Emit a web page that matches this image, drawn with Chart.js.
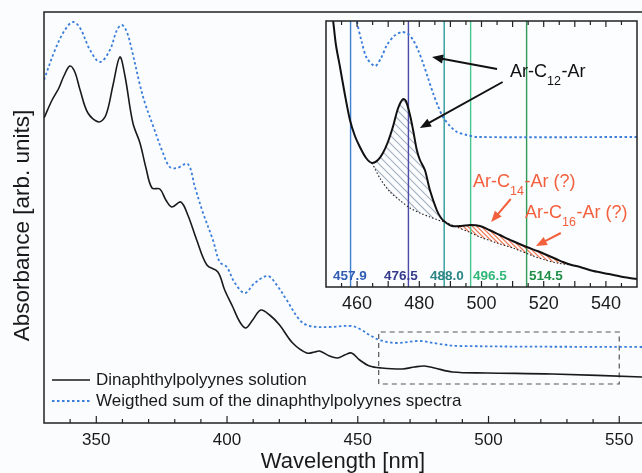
<!DOCTYPE html>
<html>
<head>
<meta charset="utf-8">
<script src="https://cdn.jsdelivr.net/npm/chart.js@4.4.0/dist/chart.umd.min.js"></script>
<style>
html,body{margin:0;padding:0;background:#fbfcfe;}
#wrap{position:relative;width:642px;height:473px;overflow:hidden;}
#main{position:absolute;left:0;top:0;}
#inset{position:absolute;left:316px;top:11px;}
</style>
</head>
<body>
<div id="wrap">
  <canvas id="main" width="642" height="473"></canvas>
  <canvas id="inset" width="326" height="310"></canvas>
</div>
<script>
const FONT = '"Liberation Sans", Arial, sans-serif';

// ===== main spectrum data [wavelength nm, absorbance arb.] =====
const solution = [[330,3.05],[333.1,3.23],[335.7,3.35],[337.6,3.47],[339.9,3.57],[341.8,3.51],[343.8,3.33],[346.8,3.10],
  [351,3.01],[353.7,3.08],[356.4,3.38],[359,3.66],[360.9,3.48],[364,3.00],[366.7,2.80],[369,2.55],[371.3,2.35],[374.3,2.34],
  [376.6,2.23],[378.9,2.16],[382.3,2.21],[385,2.08],[388.4,1.83],[392.3,1.58],[396.5,1.51],[399.1,1.33],[402.2,1.16],
  [404.9,1.01],[407.2,0.95],[409.8,1.03],[412.9,1.13],[416.3,1.08],[420.1,0.98],[425.1,0.80],[430.5,0.70],[433.5,0.71],
  [435.4,0.72],[439.2,0.67],[442.3,0.65],[445,0.68],[447.6,0.70],[450.7,0.63],[454.5,0.57],[459.1,0.55],[467.1,0.54],
  [471.7,0.56],[475.5,0.57],[479.4,0.55],[486.2,0.51],[499.2,0.50],[524.4,0.49],[558.7,0.46]];
const weightedSum = [[330,3.43],[334.2,3.73],[338,3.93],[341.1,4.01],[343.8,3.95],[347.6,3.73],[351.4,3.61],[355.2,3.73],
  [357.9,3.93],[359.8,3.98],[361.7,3.91],[363.6,3.73],[366.7,3.38],[368.6,3.20],[371.6,2.98],[375.5,2.70],[378.1,2.56],
  [380.8,2.55],[385,2.59],[387.7,2.36],[390.7,2.11],[394.6,1.83],[397.2,1.61],[399.9,1.56],[403,1.40],[406.8,1.30],
  [410.6,1.40],[415.6,1.47],[419,1.38],[422.8,1.23],[427.8,1.03],[431.6,0.97],[439.2,0.96],[447.6,0.97],[451.5,0.93],
  [454.5,0.88],[458.3,0.83],[464.8,0.80],[473.6,0.82],[481.3,0.79],[488.9,0.77],[558.7,0.76]];
const zoomBox = [[458,0.39],[458,0.91],[550,0.91],[550,0.39],[458,0.39]];
const mainTicks = [350,400,450,500,550];
const legendLabels = ['Dinaphthylpolyynes solution','Weigthed sum of the dinaphthylpolyynes spectra'];
const yTitle = 'Absorbance [arb. units]';

// ===== inset data =====
const insetSolution = [[451,2.95],[452.3,2.66],[453.2,2.42],[454.5,2.20],[456.1,1.92],[457.7,1.67],[459.3,1.51],[460.9,1.40],
  [462.9,1.29],[464.8,1.24],[466.7,1.27],[468.3,1.34],[469.9,1.45],[471.5,1.60],[473.2,1.79],[474.8,1.88],[475.7,1.86],
  [477,1.72],[478,1.57],[479.2,1.37],[480.2,1.27],[481.8,1.17],[483.4,0.97],[485.6,0.77],[487,0.69],[488.3,0.65],
  [490.5,0.61],[493.5,0.61],[496.5,0.62],[499.5,0.61],[502.5,0.57],[505.9,0.52],[510,0.46],[514.5,0.40],[518,0.36],
  [521,0.32],[524,0.28],[526.2,0.25],[529,0.22],[531.7,0.20],[536,0.16],[541,0.13],[545.5,0.10],[550,0.08]];
const insetSum = [[459.3,2.80],[459.9,2.66],[461.5,2.45],[463.1,2.29],[465.8,2.21],[467.7,2.29],[469.6,2.42],[471.9,2.51],
  [474.4,2.55],[476.4,2.53],[478,2.47],[479.6,2.37],[481.2,2.24],[482.8,2.09],[484.4,1.94],[486,1.81],[487.6,1.70],
  [489.9,1.61],[492.1,1.55],[495.3,1.52],[498.6,1.50],[550,1.50]];
const baseC12 = [[464.8,1.24],[467.5,1.08],[470.6,0.95],[474,0.86],[477,0.79],[480.2,0.74],[483.4,0.70],[486,0.67],[488.3,0.65]];
const baseC14 = [[488.3,0.65],[492,0.60],[496,0.55],[499.5,0.50],[505,0.44],[510.1,0.39],[516.6,0.31],[520.5,0.27],[524.3,0.24],[529,0.22]];
const laserWl = [457.9,476.5,488.0,496.5,514.5];
const laserText = ['457.9','476.5','488.0','496.5','514.5'];
const laserTextAt = [457.7,474.1,488.9,502.7,520.7];
const laserLine = ['#3f7fd0','#4a4aa8','#2e9a9a','#46c58c','#2e9a55'];
const laserInk = ['#2f5db5','#353a8c','#2a8585','#30b878','#1e8f45'];
const insetTicks = [460,480,500,520,540];
const annoText = [['Ar-C','12','-Ar'],['Ar-C','14','-Ar (?)'],['Ar-C','16','-Ar (?)']];
const annoAt = [[509.2,2.15],[497.3,1.05],[514.0,0.74]];
const annoInk = ['#111','#f2603e','#f2603e'];
const arrows = [[505.0,2.18,484.1,2.30],[506.8,2.05,480.2,1.59],[509.4,0.88,503.1,0.65],[525.5,0.54,517.5,0.41]];
const arrowInk = ['#111','#111','#f2603e','#f2603e'];
// hatched areas: [upper curve range, baseline, colour, spacing]
const hatchAreas = [[464.8,488.3,baseC12,'#a3b1be',8],[488.3,529,baseC14,'#f07a58',4.5]];

const pts = a => a.map(([x,y]) => ({x,y}));
const within = (a,lo,hi) => a.filter(p => p[0] >= lo && p[0] <= hi);

// ===== main chart =====
const mainDeco = {
  id:'mainDeco',
  afterDraw(chart){
    const {ctx, chartArea:a, scales:{x}} = chart;
    ctx.save();
    ctx.strokeStyle = '#222'; ctx.lineWidth = 1.5;
    ctx.beginPath();
    ctx.moveTo(a.right+2, a.top); ctx.lineTo(a.left, a.top); ctx.lineTo(a.left, a.bottom); ctx.lineTo(a.right+2, a.bottom);
    ctx.stroke();
    ctx.lineWidth = 1.2;
    for(let v=340; v<=x.max; v+=10){
      const px = x.getPixelForValue(v);
      ctx.beginPath(); ctx.moveTo(px, a.bottom); ctx.lineTo(px, a.bottom - (v%50===0 ? 7 : 4)); ctx.stroke();
    }
    // y axis title
    ctx.save();
    ctx.translate(a.left - 21, (a.top + a.bottom)/2 + 8);
    ctx.rotate(-Math.PI/2);
    ctx.font = '22.5px ' + FONT; ctx.fillStyle = '#1a1a1a'; ctx.textAlign = 'center'; ctx.textBaseline = 'middle';
    ctx.fillText(yTitle, 0, 0);
    ctx.restore();
    // legend
    const ds = chart.data.datasets;
    ctx.font = '17px ' + FONT; ctx.textBaseline = 'middle'; ctx.fillStyle = '#1a1a1a';
    legendLabels.forEach((t,i) => {
      const y = a.bottom - 43 + i*21, d = ds[i];
      ctx.strokeStyle = d.borderColor; ctx.lineWidth = d.borderWidth;
      ctx.setLineDash(d.borderDash || []);
      ctx.beginPath(); ctx.moveTo(a.left+8, y); ctx.lineTo(a.left+46, y); ctx.stroke();
      ctx.setLineDash([]);
      ctx.fillText(t, a.left+52, y);
    });
    ctx.restore();
  }
};

new Chart(document.getElementById('main'), {
  type:'line',
  data:{datasets:[
    {data:pts(solution), borderColor:'#1a1a1a', borderWidth:1.6, tension:0.35},
    {data:pts(weightedSum), borderColor:'#3b7ddb', borderWidth:1.8, borderDash:[2.5,2.5], tension:0.35},
    {data:pts(zoomBox), borderColor:'#555', borderWidth:1.2, borderDash:[5,4], tension:0}
  ]},
  options:{
    responsive:false, animation:false,
    layout:{padding:{top:12,left:0,right:0,bottom:0}},
    elements:{point:{radius:0}},
    plugins:{legend:{display:false}, tooltip:{enabled:false}},
    scales:{
      x:{type:'linear', min:330, max:558.7,
        afterBuildTicks: s => { s.ticks = mainTicks.map(v => ({value:v})); },
        afterFit: s => { s.height = 50; },
        grid:{display:false, drawTicks:false}, border:{display:false},
        ticks:{color:'#1a1a1a', padding:7, font:{family:FONT, size:17}},
        title:{display:true, text:'Wavelength [nm]', color:'#1a1a1a', padding:{top:0,bottom:0}, font:{family:FONT, size:22, lineHeight:1}}
      },
      y:{min:0, max:4.11,
        afterFit: s => { s.width = 44; },
        grid:{display:false, drawTicks:false}, border:{display:false},
        ticks:{display:false}
      }
    }
  },
  plugins:[mainDeco]
});

// ===== inset chart =====
function drawArrow(ctx, x1, y1, x2, y2, color){
  const ang = Math.atan2(y2-y1, x2-x1), L = 11, W = 4.5;
  ctx.strokeStyle = color; ctx.fillStyle = color; ctx.lineWidth = 2;
  ctx.beginPath(); ctx.moveTo(x1,y1); ctx.lineTo(x2 - Math.cos(ang)*L*0.8, y2 - Math.sin(ang)*L*0.8); ctx.stroke();
  ctx.beginPath();
  ctx.moveTo(x2,y2);
  ctx.lineTo(x2 - Math.cos(ang)*L - Math.sin(ang)*W, y2 - Math.sin(ang)*L + Math.cos(ang)*W);
  ctx.lineTo(x2 - Math.cos(ang)*L + Math.sin(ang)*W, y2 - Math.sin(ang)*L - Math.cos(ang)*W);
  ctx.closePath(); ctx.fill();
}

const insetDeco = {
  id:'insetDeco',
  beforeDraw(chart){
    const {ctx, chartArea:a} = chart;
    ctx.save(); ctx.fillStyle = '#fcfdff'; ctx.fillRect(a.left, a.top, a.right-a.left, a.bottom-a.top); ctx.restore();
  },
  beforeDatasetsDraw(chart){
    // hatched areas between spectrum and extrapolated background
    const {ctx, chartArea:a, scales:{x,y}} = chart;
    hatchAreas.forEach(([lo,hi,base,color,gap]) => {
      const up = within(insetSolution, lo, hi);
      ctx.save();
      ctx.beginPath();
      up.forEach(([u,v],k) => k ? ctx.lineTo(x.getPixelForValue(u), y.getPixelForValue(v)) : ctx.moveTo(x.getPixelForValue(u), y.getPixelForValue(v)));
      base.slice().reverse().forEach(([u,v]) => ctx.lineTo(x.getPixelForValue(u), y.getPixelForValue(v)));
      ctx.closePath(); ctx.clip();
      ctx.strokeStyle = color; ctx.lineWidth = 1.2;
      const H = a.bottom - a.top;
      ctx.beginPath();
      for(let k = a.left - H; k < a.right; k += gap){ ctx.moveTo(k, a.top); ctx.lineTo(k + H, a.bottom); }
      ctx.stroke();
      ctx.restore();
    });
  },
  afterDraw(chart){
    const {ctx, chartArea:a, scales:{x,y}} = chart;
    ctx.save();
    // laser line labels
    ctx.font = 'bold 13.5px ' + FONT; ctx.textAlign = 'center'; ctx.textBaseline = 'middle';
    laserText.forEach((t,i) => { ctx.fillStyle = laserInk[i]; ctx.fillText(t, x.getPixelForValue(laserTextAt[i]), a.bottom - 11); });
    // frame + ticks
    ctx.strokeStyle = '#222'; ctx.lineWidth = 1.5;
    ctx.strokeRect(a.left, a.top, a.right-a.left, a.bottom-a.top);
    ctx.lineWidth = 1.2;
    for(let v=455; v<550; v+=5){
      const px = x.getPixelForValue(v), len = v%10===0 ? 6 : 4;
      ctx.beginPath();
      ctx.moveTo(px, a.bottom); ctx.lineTo(px, a.bottom-len);
      ctx.moveTo(px, a.top); ctx.lineTo(px, a.top+len);
      ctx.stroke();
    }
    // arrows
    arrows.forEach((r,i) => drawArrow(ctx, x.getPixelForValue(r[0]), y.getPixelForValue(r[1]), x.getPixelForValue(r[2]), y.getPixelForValue(r[3]), arrowInk[i]));
    // species labels with subscripts
    ctx.textAlign = 'left'; ctx.textBaseline = 'middle';
    annoText.forEach((parts,i) => {
      let px = x.getPixelForValue(annoAt[i][0]);
      const py = y.getPixelForValue(annoAt[i][1]);
      ctx.fillStyle = annoInk[i];
      parts.forEach((t,k) => {
        const sub = k === 1;
        ctx.font = (sub ? 12.5 : 18) + 'px ' + FONT;
        ctx.fillText(t, px, sub ? py + 10 : py);
        px += ctx.measureText(t).width + (sub ? 0.5 : 0);
      });
    });
    ctx.restore();
  }
};

const insetSets = [
  {data:pts(insetSolution), borderColor:'#111', borderWidth:2, tension:0.3, order:0},
  {data:pts(insetSum), borderColor:'#3b7ddb', borderWidth:1.9, borderDash:[2.5,2.5], tension:0.3, order:0},
  {data:pts(baseC12), borderColor:'#222', borderWidth:1.1, borderDash:[1.5,2], tension:0.3, order:1},
  {data:pts(baseC14), borderColor:'#222', borderWidth:1.1, borderDash:[1.5,2], tension:0.3, order:1}
];
laserWl.forEach((w,i) => insetSets.push({data:[{x:w,y:0},{x:w,y:2.66}], borderColor:laserLine[i], borderWidth:1.4, order:3}));

new Chart(document.getElementById('inset'), {
  type:'line',
  data:{datasets:insetSets},
  options:{
    responsive:false, animation:false,
    layout:{padding:{top:10,left:10,right:5,bottom:0}},
    elements:{point:{radius:0}},
    plugins:{legend:{display:false}, tooltip:{enabled:false}},
    scales:{
      x:{type:'linear', min:450, max:550,
        afterBuildTicks: s => { s.ticks = insetTicks.map(v => ({value:v})); },
        afterFit: s => { s.height = 34; },
        grid:{display:false, drawTicks:false}, border:{display:false},
        ticks:{color:'#1a1a1a', padding:6, font:{family:FONT, size:18}}
      },
      y:{display:false, min:0, max:2.66}
    }
  },
  plugins:[insetDeco]
});
</script>
</body>
</html>
